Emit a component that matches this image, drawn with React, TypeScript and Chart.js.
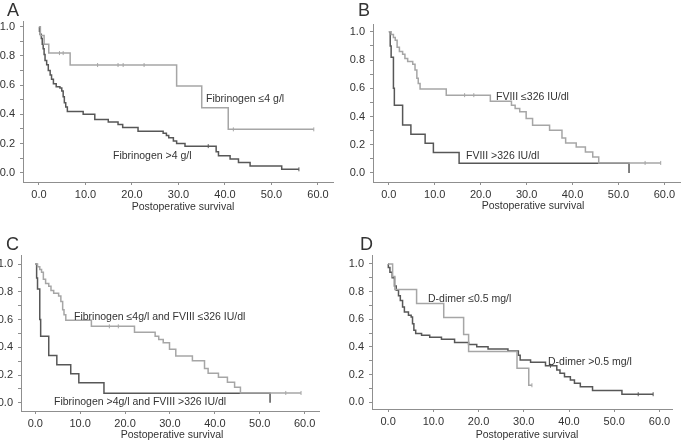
import React, { useEffect, useRef } from 'react';
import { Chart, registerables } from 'chart.js';

Chart.register(...registerables);

const FONT = '"Liberation Sans", Arial, Helvetica, sans-serif';
const LIGHT = '#a6a6a6';
const DARK = '#575757';
const TEXT = '#333333';
const AXIS = '#8f8f8f';

// Tick values
const X_TICKS = [0, 10, 20, 30, 40, 50, 60];
const Y_TICKS = [0, 0.1, 0.2, 0.3, 0.4, 0.5, 0.6, 0.7, 0.8, 0.9, 1.0];
const X_TITLE = 'Postoperative survival';

// Panel A: Fibrinogen
const A_LOW_T = [0, 0.3, 1.1, 2.1, 6.7, 29.6, 35.0, 40.7, 59.1];
const A_LOW_S = [1.0, 0.94, 0.88, 0.82, 0.738, 0.594, 0.445, 0.297, 0.297];
const A_LOW_CENSOR = [4.4, 5.2, 12.6, 17.0, 18.1, 22.6, 41.8, 59.1];
const A_HIGH_T = [0, 0.1, 0.25, 0.5, 0.7, 0.9, 1.1, 1.3, 1.65, 2.0, 2.4, 2.7, 3.1, 3.7, 4.5, 4.9, 5.2, 5.45, 5.75, 6.1, 9.5, 12.0, 14.9, 17.0, 18.0, 21.3, 26.7, 27.4, 27.9, 28.9, 29.6, 31.4, 38.1, 38.6, 41.1, 42.9, 45.4, 52.2, 55.9];
const A_HIGH_S = [1.0, 0.97, 0.95, 0.92, 0.88, 0.85, 0.81, 0.77, 0.74, 0.70, 0.67, 0.64, 0.61, 0.59, 0.58, 0.56, 0.52, 0.48, 0.45, 0.42, 0.40, 0.364, 0.348, 0.33, 0.31, 0.284, 0.27, 0.255, 0.24, 0.217, 0.20, 0.182, 0.143, 0.116, 0.093, 0.07, 0.045, 0.023, 0.023];
const A_HIGH_CENSOR = [36.4, 55.9];

// Panel B: FVIII
const B_LOW_T = [0, 0.5, 1.0, 1.4, 1.8, 2.3, 3.0, 3.5, 4.1, 5.2, 5.7, 6.1, 6.4, 6.8, 12.5, 22.1, 26.7, 27.5, 28.5, 29.9, 31.3, 35.0, 37.7, 38.5, 40.8, 42.8, 44.4, 45.7, 59.2];
const B_LOW_S = [1.0, 0.98, 0.96, 0.94, 0.89, 0.86, 0.84, 0.81, 0.79, 0.77, 0.73, 0.67, 0.634, 0.594, 0.551, 0.508, 0.48, 0.457, 0.433, 0.386, 0.338, 0.303, 0.248, 0.213, 0.184, 0.149, 0.113, 0.071, 0.071];
const B_LOW_CENSOR = [16.5, 18.5, 55.8, 59.2];
const B_HIGH_T = [0, 0.3, 0.5, 1.0, 1.2, 3.0, 4.8, 7.9, 9.7, 15.3, 52.3];
const B_HIGH_S = [1.0, 0.9, 0.82, 0.6, 0.48, 0.34, 0.275, 0.21, 0.145, 0.068, 0.0];
const B_HIGH_CENSOR: number[] = [];

// Panel C: combined (same groups)
const C_LOW_T = B_LOW_T;
const C_LOW_S = B_LOW_S;
const C_LOW_CENSOR = B_LOW_CENSOR;
const C_HIGH_T = B_HIGH_T;
const C_HIGH_S = B_HIGH_S;
const C_HIGH_CENSOR = B_HIGH_CENSOR;

// Panel D: D-dimer
const D_LOW_T = [0, 1.0, 1.5, 6.3, 12.3, 16.7, 17.8, 28.5, 31.1, 31.8];
const D_LOW_S = [1.0, 0.91, 0.815, 0.714, 0.612, 0.49, 0.367, 0.245, 0.122, 0.122];
const D_LOW_CENSOR = [31.8];
const D_HIGH_T = [0, 0.05, 0.4, 0.9, 1.4, 1.8, 2.3, 2.7, 3.2, 3.6, 4.5, 5.1, 5.4, 5.7, 6.1, 7.4, 9.2, 11.8, 14.7, 17.8, 19.6, 22.1, 26.5, 28.8, 29.2, 31.5, 34.8, 37.3, 38.0, 39.0, 40.3, 41.2, 42.5, 45.2, 51.7, 58.6];
const D_HIGH_S = [1.0, 0.975, 0.94, 0.90, 0.84, 0.81, 0.77, 0.736, 0.688, 0.652, 0.628, 0.616, 0.568, 0.52, 0.496, 0.484, 0.47, 0.455, 0.432, 0.417, 0.40, 0.385, 0.37, 0.34, 0.305, 0.288, 0.263, 0.232, 0.208, 0.184, 0.16, 0.137, 0.112, 0.084, 0.057, 0.057];
const D_HIGH_CENSOR = [35.9, 55.3, 58.6];

type Series = { t: number[]; s: number[]; c: number[]; color: string };
type Note = { text: string; x: number; y: number };
type Panel = {
  letter: string;
  left: number; top: number; w: number; h: number;
  area: { l: number; r: number; t: number; b: number };
  xr: [number, number]; yr: [number, number];
  letterPos: { x: number; y: number };
  titlePos: { x: number; y: number };
  series: Series[];
  notes: Note[];
};

const PANELS: Panel[] = [
  {
    letter: 'A', left: 0, top: 0, w: 342, h: 220,
    area: { l: 23, r: 333, t: 21, b: 182 },
    xr: [-3.44, 63.23], yr: [-0.064, 1.04],
    letterPos: { x: 7, y: 16 }, titlePos: { x: 183, y: 207 },
    series: [
      { t: A_LOW_T, s: A_LOW_S, c: A_LOW_CENSOR, color: LIGHT },
      { t: A_HIGH_T, s: A_HIGH_S, c: A_HIGH_CENSOR, color: DARK },
    ],
    notes: [
      { text: 'Fibrinogen ≤4 g/l', x: 206, y: 99 },
      { text: 'Fibrinogen >4 g/l', x: 113, y: 156 },
    ],
  },
  {
    letter: 'B', left: 342, top: 0, w: 343, h: 220,
    area: { l: 31, r: 341, t: 24, b: 182 },
    xr: [-3.45, 63.4], yr: [-0.064, 1.055],
    letterPos: { x: 16, y: 16 }, titlePos: { x: 191, y: 206 },
    series: [
      { t: B_LOW_T, s: B_LOW_S, c: B_LOW_CENSOR, color: LIGHT },
      { t: B_HIGH_T, s: B_HIGH_S, c: B_HIGH_CENSOR, color: DARK },
    ],
    notes: [
      { text: 'FVIII ≤326 IU/dl', x: 154, y: 97 },
      { text: 'FVIII >326 IU/dl', x: 124, y: 156 },
    ],
  },
  {
    letter: 'C', left: 0, top: 222, w: 342, h: 221,
    area: { l: 21, r: 319, t: 33, b: 189 },
    xr: [-3.18, 63.2], yr: [-0.059, 1.065],
    letterPos: { x: 6, y: 28 }, titlePos: { x: 172, y: 213 },
    series: [
      { t: C_LOW_T, s: C_LOW_S, c: C_LOW_CENSOR, color: LIGHT },
      { t: C_HIGH_T, s: C_HIGH_S, c: C_HIGH_CENSOR, color: DARK },
    ],
    notes: [
      { text: 'Fibrinogen ≤4g/l and FVIII ≤326 IU/dl', x: 74, y: 95 },
      { text: 'Fibrinogen >4g/l and FVIII >326 IU/dl', x: 54, y: 180 },
    ],
  },
  {
    letter: 'D', left: 342, top: 222, w: 343, h: 221,
    area: { l: 30, r: 330, t: 33, b: 187 },
    xr: [-3.56, 62.77], yr: [-0.05, 1.065],
    letterPos: { x: 18, y: 28 }, titlePos: { x: 185, y: 213 },
    series: [
      { t: D_LOW_T, s: D_LOW_S, c: D_LOW_CENSOR, color: LIGHT },
      { t: D_HIGH_T, s: D_HIGH_S, c: D_HIGH_CENSOR, color: DARK },
    ],
    notes: [
      { text: 'D-dimer ≤0.5 mg/l', x: 86, y: 77 },
      { text: 'D-dimer >0.5 mg/l', x: 206, y: 140 },
    ],
  },
];

function km(t: number[], s: number[]) {
  return t.map((x, i) => ({ x, y: s[i] }));
}
function survAt(t: number[], s: number[], time: number) {
  let v = s[0];
  for (let i = 0; i < t.length; i++) if (t[i] <= time) v = s[i];
  return v;
}

const textPlugin = {
  id: 'panelText',
  afterDraw(chart: any, _args: any, opts: any) {
    const ctx = chart.ctx as CanvasRenderingContext2D;
    ctx.save();
    ctx.fillStyle = TEXT;
    ctx.textAlign = 'left';
    ctx.textBaseline = 'alphabetic';
    ctx.font = `18px ${FONT}`;
    ctx.fillText(opts.letter, opts.letterPos.x, opts.letterPos.y);
    ctx.font = `10.5px ${FONT}`;
    ctx.textAlign = 'center';
    ctx.textBaseline = 'middle';
    ctx.fillText(X_TITLE, opts.titlePos.x, opts.titlePos.y);
    ctx.textAlign = 'left';
    for (const n of opts.notes as Note[]) ctx.fillText(n.text, n.x, n.y);
    ctx.restore();
  },
};

function buildChart(canvas: HTMLCanvasElement, p: Panel) {
  const datasets: any[] = [];
  p.series.forEach((se) => {
    datasets.push({
      data: km(se.t, se.s),
      borderColor: se.color,
      borderWidth: 1.5,
      pointRadius: 0,
      stepped: true,
      fill: false,
    });
    datasets.push({
      data: se.c.map((x) => ({ x, y: survAt(se.t, se.s, x) })),
      showLine: false,
      borderColor: se.color,
      backgroundColor: se.color,
      pointStyle: 'line',
      pointRotation: 90,
      pointRadius: 2,
      pointBorderWidth: 1,
    });
  });
  const tickFont = { family: FONT, size: 11 };
  return new Chart(canvas, {
    type: 'line',
    data: { datasets },
    options: {
      responsive: false,
      maintainAspectRatio: false,
      animation: false,
      layout: { padding: { left: 0, top: p.area.t, right: p.w - p.area.r, bottom: 0 } },
      plugins: {
        legend: { display: false },
        tooltip: { enabled: false },
        panelText: { letter: p.letter, letterPos: p.letterPos, titlePos: p.titlePos, notes: p.notes },
      } as any,
      scales: {
        x: {
          type: 'linear',
          min: p.xr[0],
          max: p.xr[1],
          afterFit: (s: any) => { s.height = p.h - p.area.b; },
          afterBuildTicks: (s: any) => { s.ticks = X_TICKS.map((v) => ({ value: v })); },
          grid: { drawOnChartArea: false, drawTicks: true, tickLength: 3, color: AXIS },
          border: { display: true, color: AXIS, width: 1 },
          ticks: {
            font: tickFont, color: TEXT, padding: 3, maxRotation: 0, autoSkip: false,
            callback: (v: any) => Number(v).toFixed(1),
          },
        },
        y: {
          type: 'linear',
          min: p.yr[0],
          max: p.yr[1],
          afterFit: (s: any) => { s.width = p.area.l; },
          afterBuildTicks: (s: any) => { s.ticks = Y_TICKS.map((v) => ({ value: v })); },
          grid: { drawOnChartArea: false, drawTicks: true, tickLength: 3, color: AXIS },
          border: { display: true, color: AXIS, width: 1 },
          ticks: {
            font: tickFont, color: TEXT, padding: 5, autoSkip: false,
            callback: (v: any, i: number) => (i % 2 === 0 ? Number(v).toFixed(1) : ''),
          },
        },
      },
    } as any,
    plugins: [textPlugin as any],
  });
}

export default function App() {
  const refs = useRef<(HTMLCanvasElement | null)[]>([]);
  useEffect(() => {
    const charts = PANELS.map((p, i) => buildChart(refs.current[i] as HTMLCanvasElement, p));
    return () => charts.forEach((c) => c.destroy());
  }, []);
  return (
    <div style={{ position: 'absolute', left: 0, top: 0, width: 685, height: 443, background: '#fff' }}>
      {PANELS.map((p, i) => (
        <canvas
          key={p.letter}
          ref={(el) => { refs.current[i] = el; }}
          width={p.w}
          height={p.h}
          style={{ position: 'absolute', left: p.left, top: p.top, width: p.w, height: p.h }}
        />
      ))}
    </div>
  );
}
